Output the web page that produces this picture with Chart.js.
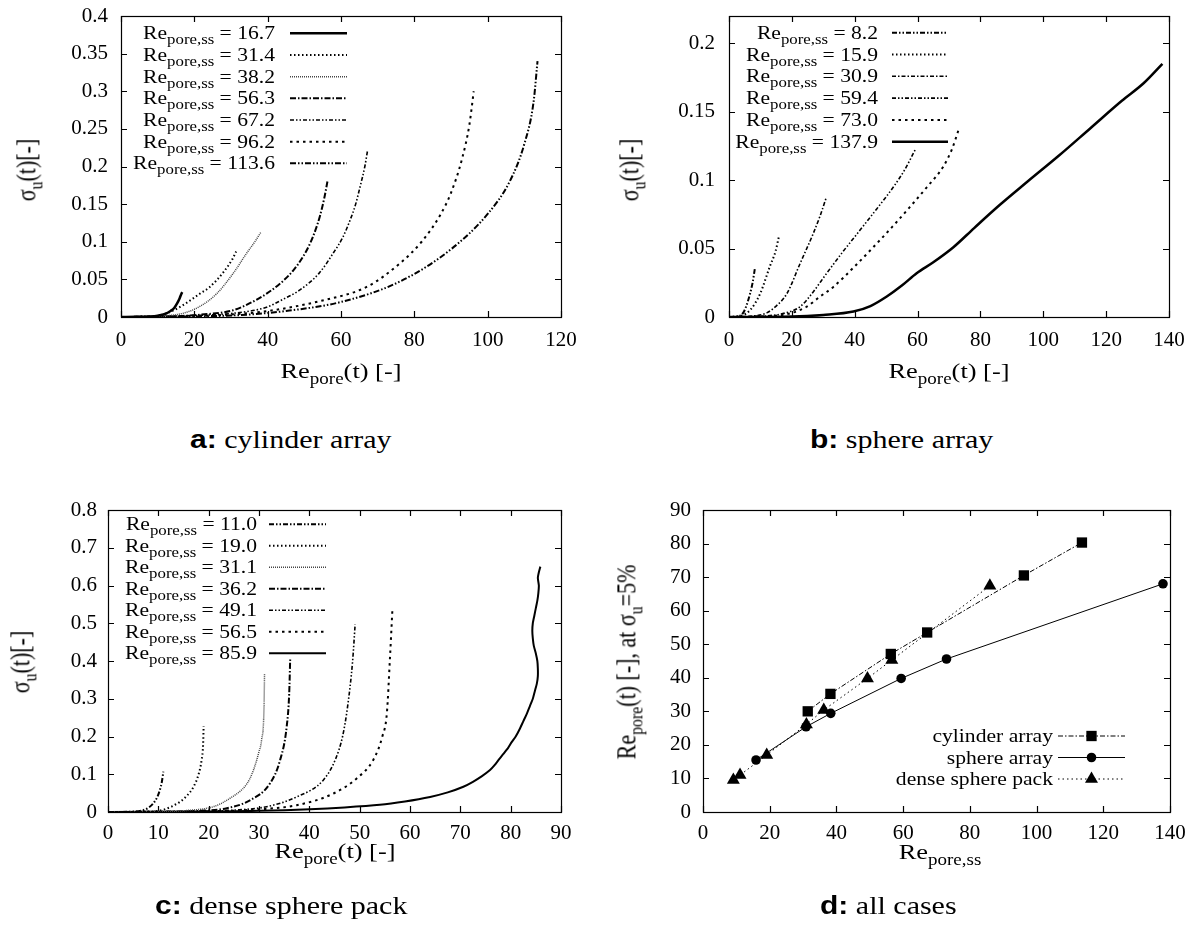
<!DOCTYPE html>
<html>
<head>
<meta charset="utf-8">
<script src="https://cdn.jsdelivr.net/npm/chart.js@4.4.1/dist/chart.umd.min.js"></script>
<style>
  body { margin: 0; background: #fff; }
  #page { position: relative; width: 1197px; height: 946px; overflow: hidden; font-family: "Liberation Serif", serif; color: #000; }
  canvas { position: absolute; }
  .t { position: absolute; white-space: nowrap; font-family: "Liberation Serif", serif; font-size: 22px; line-height: 1; }
  .h { transform: translate(-50%, -50%) scaleX(1.2); }
  .v { transform: translate(-50%, -50%) rotate(-90deg) scaleY(1.2); }
  .s { font-size: 0.72em; position: relative; top: 0.38em; }
  .cap { position: absolute; white-space: nowrap; font-family: "Liberation Serif", serif; font-size: 25px; line-height: 1; transform: translateY(-50%) scaleX(1.2); transform-origin: 0 50%; }
  .cap b { font-family: "Liberation Sans", sans-serif; font-weight: bold; }
</style>
</head>
<body>
<div id="page">
  <canvas id="ca" width="600" height="400" style="left:0;top:0"></canvas>
  <canvas id="cb" width="597" height="400" style="left:600px;top:0"></canvas>
  <canvas id="cc" width="600" height="420" style="left:0;top:460px"></canvas>
  <canvas id="cd" width="597" height="420" style="left:600px;top:460px"></canvas>

  <div class="t v" style="left:27px;top:170px">σ<span class="s">u</span>(t)[-]</div>
  <div class="t h" style="left:341px;top:371px">Re<span class="s">pore</span>(t) [-]</div>
  <div class="t v" style="left:630px;top:170px">σ<span class="s">u</span>(t)[-]</div>
  <div class="t h" style="left:949px;top:371px">Re<span class="s">pore</span>(t) [-]</div>
  <div class="t v" style="left:21px;top:662px">σ<span class="s">u</span>(t)[-]</div>
  <div class="t h" style="left:335px;top:851px">Re<span class="s">pore</span>(t) [-]</div>
  <div class="t v" style="left:627px;top:662px">Re<span class="s">pore</span>(t) [-], at σ<span class="s">u</span>=5%</div>
  <div class="t h" style="left:940px;top:852px">Re<span class="s">pore,ss</span></div>

  <div class="cap" style="left:190px;top:439px"><b>a:</b> cylinder array</div>
  <div class="cap" style="left:810px;top:439px"><b>b:</b> sphere array</div>
  <div class="cap" style="left:155px;top:905px"><b>c:</b> dense sphere pack</div>
  <div class="cap" style="left:820px;top:905px"><b>d:</b> all cases</div>
</div>

<script>
// ---- a: cylinder array, sigma_u(t) against Re_pore(t), one [Re, sigma] list per run
const cylRe = ['16.7', '31.4', '38.2', '56.3', '67.2', '96.2', '113.6'];
const cyl16_7 = [[0, 0], [4, 0.0002], [8, 0.0008], [10, 0.0018], [12, 0.004], [13.5, 0.008], [14.5, 0.012], [15.3, 0.018], [16, 0.025], [16.4, 0.03], [16.7, 0.033]];
const cyl31_4 = [[0, 0], [8, 0.0005], [12.5, 0.005], [17, 0.016], [21.5, 0.031], [24, 0.039], [26.1, 0.049], [28, 0.06], [29.5, 0.07], [30.5, 0.078], [31.4, 0.087]];
const cyl38_2 = [[0, 0], [10, 0.001], [17, 0.005], [21.5, 0.014], [26.1, 0.031], [30.6, 0.058], [34.3, 0.085], [36.5, 0.1], [38.2, 0.113]];
const cyl56_3 = [[0, 0], [15, 0.001], [21.5, 0.003], [30.6, 0.009], [35, 0.018], [39.7, 0.031], [44, 0.047], [47, 0.062], [49.5, 0.079], [51.5, 0.097], [53, 0.115], [54.3, 0.135], [55.4, 0.157], [56.3, 0.18]];
const cyl67_2 = [[0, 0], [20, 0.002], [30.6, 0.005], [39.7, 0.013], [44, 0.023], [48.8, 0.036], [54, 0.058], [57.9, 0.085], [60.5, 0.106], [62.5, 0.129], [64, 0.15], [65.2, 0.173], [66.5, 0.2], [67.2, 0.22]];
const cyl96_2 = [[0, 0], [25, 0.002], [40, 0.008], [55, 0.022], [67, 0.04], [76, 0.071], [82, 0.1], [87, 0.135], [90, 0.165], [93, 0.21], [95, 0.255], [96.2, 0.3]];
const cyl113_6 = [[0, 0], [30, 0.002], [45, 0.008], [60, 0.02], [76, 0.047], [90, 0.09], [100, 0.137], [106, 0.18], [110, 0.23], [112.5, 0.285], [113.6, 0.34]];

// ---- b: sphere array
const sphRe = ['8.2', '15.9', '30.9', '59.4', '73.0', '137.9'];
const sph8_2 = [[0, 0], [3, 0.0005], [4.5, 0.003], [5.5, 0.008], [6.7, 0.017], [7.5, 0.025], [8.2, 0.035]];
const sph15_9 = [[0, 0], [4, 0.001], [6.7, 0.005], [9.9, 0.017], [13, 0.037], [14.8, 0.048], [15.9, 0.059]];
const sph30_9 = [[0, 0], [8, 0.0008], [12, 0.003], [15, 0.008], [18.4, 0.017], [22.6, 0.039], [26.8, 0.061], [29, 0.074], [30.9, 0.087]];
const sph59_4 = [[0, 0], [12, 0.0008], [18, 0.003], [22.6, 0.0075], [26, 0.016], [31.1, 0.032], [36, 0.047], [41.7, 0.0635], [47, 0.079], [52.3, 0.095], [56, 0.108], [59.4, 0.123]];
const sph73_0 = [[0, 0], [15, 0.001], [20, 0.003], [24.7, 0.0075], [29, 0.015], [33.2, 0.022], [40, 0.037], [45.9, 0.051], [52, 0.066], [57.6, 0.0805], [63, 0.095], [68.2, 0.11], [71, 0.123], [73, 0.1365]];
const sph137_9 = [[0, 0], [20, 0.0003], [30, 0.0015], [39.6, 0.004], [45, 0.008], [50.2, 0.015], [55, 0.023], [59.7, 0.032], [65, 0.04], [71.4, 0.051], [78, 0.065], [86.2, 0.082], [95, 0.099], [105, 0.118], [115, 0.138], [125, 0.158], [132, 0.171], [137.9, 0.185]];

// ---- c: dense sphere pack
const dspRe = ['11.0', '19.0', '31.1', '36.2', '49.1', '56.5', '85.9'];
const dsp11_0 = [[0, 0], [5, 0.001], [7, 0.005], [8, 0.011], [9, 0.023], [9.8, 0.04], [10.3, 0.058], [10.7, 0.08], [11, 0.107]];
const dsp19_0 = [[0, 0], [8, 0.001], [11, 0.006], [14.3, 0.027], [15.6, 0.042], [17, 0.067], [18, 0.1], [18.6, 0.138], [18.9, 0.18], [19.0, 0.228]];
const dsp31_1 = [[0, 0], [10, 0.001], [15.6, 0.004], [20.9, 0.014], [24.2, 0.036], [27.6, 0.075], [28.9, 0.111], [30, 0.16], [30.5, 0.19], [31, 0.279], [31.1, 0.367]];
const dsp36_2 = [[0, 0], [12, 0.001], [18, 0.003], [23.6, 0.01], [28.2, 0.031], [32.2, 0.076], [34.2, 0.138], [35.5, 0.226], [36, 0.314], [36.2, 0.407]];
const dsp49_1 = [[0, 0], [15, 0.001], [25, 0.005], [31.5, 0.014], [37.5, 0.04], [42.8, 0.085], [45.2, 0.14], [46.6, 0.2], [47.6, 0.279], [48.6, 0.4], [49.1, 0.497]];
const dsp56_5 = [[0, 0], [20, 0.002], [30, 0.007], [37.5, 0.018], [44.8, 0.049], [49.4, 0.089], [52.7, 0.138], [54.5, 0.2], [55.4, 0.261], [56, 0.403], [56.5, 0.535]];
const dsp85_9 = [[0, 0], [20, 0.001], [30, 0.003], [40.1, 0.007], [47, 0.012], [54, 0.019], [59, 0.028], [64, 0.04], [67.5, 0.052], [70.6, 0.067], [72.5, 0.08], [74.3, 0.095], [75.9, 0.111], [76.8, 0.124], [77.6, 0.138], [78.5, 0.153], [79.5, 0.17], [80.2, 0.185], [81, 0.2], [81.8, 0.22], [82.5, 0.24], [83.2, 0.26], [83.8, 0.28], [84.4, 0.3], [84.8, 0.32], [85.2, 0.34], [85.4, 0.36], [85.4, 0.38], [85.3, 0.4], [85, 0.42], [84.6, 0.44], [84.4, 0.46], [84.3, 0.48], [84.4, 0.5], [84.7, 0.52], [85, 0.54], [85.3, 0.56], [85.5, 0.58], [85.6, 0.6], [85.4, 0.62], [85.6, 0.635], [85.9, 0.65]];

// ---- d: Re_pore(t) where sigma_u reaches 5%, against Re_pore,ss
const allNames = ['cylinder array', 'sphere array', 'dense sphere pack'];
const allCyl = [[31.4, 30.0], [38.2, 35.2], [56.3, 47.1], [67.2, 53.5], [96.2, 70.5], [113.6, 80.3]];
const allSph = [[15.9, 15.5], [30.9, 25.4], [38.3, 29.4], [59.4, 39.8], [73.0, 45.6], [137.9, 68.0]];
const allDsp = [[9.1, 9.5], [11.1, 11.0], [19.1, 17.0], [31.0, 26.1], [36.2, 30.4], [49.3, 39.8], [56.6, 45.3], [86.0, 67.4]];

// ---- axis ticks
const aXTicks = [0, 20, 40, 60, 80, 100, 120];
const aYTicks = [0, 0.05, 0.1, 0.15, 0.2, 0.25, 0.3, 0.35, 0.4];
const aYLabels = ['0', '0.05', '0.1', '0.15', '0.2', '0.25', '0.3', '0.35', '0.4'];
const bXTicks = [0, 20, 40, 60, 80, 100, 120, 140];
const bYTicks = [0, 0.05, 0.1, 0.15, 0.2];
const bYLabels = ['0', '0.05', '0.1', '0.15', '0.2'];
const cXTicks = [0, 10, 20, 30, 40, 50, 60, 70, 80, 90];
const cYTicks = [0, 0.1, 0.2, 0.3, 0.4, 0.5, 0.6, 0.7, 0.8];
const cYLabels = ['0', '0.1', '0.2', '0.3', '0.4', '0.5', '0.6', '0.7', '0.8'];
const dXTicks = [0, 20, 40, 60, 80, 100, 120, 140];
const dYTicks = [0, 10, 20, 30, 40, 50, 60, 70, 80, 90];

const SERIF = "'Liberation Serif', serif";

// gnuplot-like border with inward ticks on all four sides
const gnuFrame = {
  id: 'gnuFrame',
  beforeDatasetsDraw(chart) {
    const { ctx, chartArea: a, scales: { x, y } } = chart;
    ctx.save();
    ctx.strokeStyle = '#000';
    ctx.lineWidth = 1.2;
    ctx.beginPath();
    x.ticks.forEach(t => {
      const px = Math.round(x.getPixelForValue(t.value)) + 0.5;
      ctx.moveTo(px, a.bottom); ctx.lineTo(px, a.bottom - 6);
      ctx.moveTo(px, a.top); ctx.lineTo(px, a.top + 6);
    });
    y.ticks.forEach(t => {
      const py = Math.round(y.getPixelForValue(t.value)) + 0.5;
      ctx.moveTo(a.left, py); ctx.lineTo(a.left + 6, py);
      ctx.moveTo(a.right, py); ctx.lineTo(a.right - 6, py);
    });
    ctx.stroke();
    ctx.strokeRect(a.left + 0.5, a.top + 0.5, a.right - a.left, a.bottom - a.top);
    ctx.restore();
  }
};

function drawMarker(ctx, style, x, y, r) {
  ctx.beginPath();
  if (style === 'rect') {
    const s = r * Math.SQRT1_2;
    ctx.rect(x - s, y - s, 2 * s, 2 * s);
  } else if (style === 'triangle') {
    for (let k = 0; k < 3; k++) {
      const ang = k * 2 * Math.PI / 3;
      ctx[k ? 'lineTo' : 'moveTo'](x + Math.sin(ang) * r, y - Math.cos(ang) * r);
    }
    ctx.closePath();
  } else {
    ctx.arc(x, y, r, 0, 2 * Math.PI);
  }
  ctx.fillStyle = '#000';
  ctx.fill();
}

// key settings per canvas (kept out of chart options)
const keyCfg = {};

const gnuKey = {
  id: 'gnuKey',
  afterDatasetsDraw(chart) {
    const o = keyCfg[chart.canvas.id];
    if (!o) return;
    const ctx = chart.ctx;
    const fMain = o.size + 'px ' + SERIF;
    const fSub = o.sub + 'px ' + SERIF;
    ctx.save();
    ctx.fillStyle = '#000';
    ctx.textBaseline = 'alphabetic';
    chart.data.datasets.forEach((ds, i) => {
      const cy = o.y0 + i * o.dy;
      const parts = o.rows[i];
      let w = 0;
      parts.forEach(p => { ctx.font = p[1] ? fSub : fMain; w += ctx.measureText(p[0]).width; });
      ctx.save();
      ctx.translate(o.right - w * 1.2, cy + o.base);
      ctx.scale(1.2, 1);
      let px = 0;
      parts.forEach(p => {
        ctx.font = p[1] ? fSub : fMain;
        ctx.fillText(p[0], px, p[1] ? o.drop : 0);
        px += ctx.measureText(p[0]).width;
      });
      ctx.restore();
      ctx.save();
      ctx.strokeStyle = ds.borderColor;
      ctx.lineWidth = ds.borderWidth;
      ctx.setLineDash(ds.borderDash || []);
      ctx.beginPath();
      ctx.moveTo(o.x1, cy); ctx.lineTo(o.x2, cy);
      ctx.stroke();
      ctx.restore();
      if (ds.pointStyle && ds.pointRadius > 0) drawMarker(ctx, ds.pointStyle, (o.x1 + o.x2) / 2, cy, ds.pointRadius);
    });
    ctx.restore();
  }
};

function curve(pts, st) {
  return {
    data: pts.map(p => ({ x: p[0], y: p[1] })),
    showLine: true,
    borderColor: st.c || '#000',
    borderWidth: st.w,
    borderDash: st.d,
    pointRadius: 0,
    tension: st.t || 0,
    cubicInterpolationMode: st.t ? 'default' : 'monotone',
    fill: false
  };
}

function panel(id, box, xs, ys, datasets) {
  const cv = document.getElementById(id);
  const tickFont = { family: SERIF, size: 21 };
  return new Chart(cv, {
    type: 'scatter',
    data: { datasets },
    options: {
      responsive: false,
      animation: false,
      devicePixelRatio: 1,
      layout: { padding: { left: 0, top: box.top, right: cv.width - box.right, bottom: 0 } },
      plugins: { legend: { display: false }, tooltip: { enabled: false } },
      scales: {
        x: {
          type: 'linear', min: xs.min, max: xs.max,
          afterBuildTicks: s => { s.ticks = xs.ticks.map(v => ({ value: v })); },
          afterFit: s => { s.height = cv.height - box.bottom; s.paddingLeft = 0; s.paddingRight = 0; },
          grid: { display: false, drawTicks: false },
          border: { display: false },
          ticks: { color: '#000', font: tickFont, padding: xs.pad, maxRotation: 0, autoSkip: false,
                   callback: (v, i) => xs.labels[i] }
        },
        y: {
          type: 'linear', min: ys.min, max: ys.max,
          afterBuildTicks: s => { s.ticks = ys.ticks.map(v => ({ value: v })); },
          afterFit: s => { s.width = box.left; s.paddingTop = 0; s.paddingBottom = 0; },
          grid: { display: false, drawTicks: false },
          border: { display: false },
          ticks: { color: '#000', font: tickFont, padding: ys.pad, autoSkip: false,
                   callback: (v, i) => ys.labels[i] }
        }
      }
    },
    plugins: [gnuFrame, gnuKey]
  });
}

function reRows(list) {
  return list.map(v => [['Re', 0], ['pore,ss', 1], [' = ' + v, 0]]);
}

// ---- a
const cylStyles = [
  { w: 2.5, d: [] }, { w: 2, d: [1.5, 2.5] }, { w: 1.5, d: [1, 1], c: '#444' },
  { w: 2, d: [6, 2, 1.5, 2] }, { w: 1.6, d: [4, 2, 1.5, 2, 1.5, 2] },
  { w: 2, d: [2.5, 4] }, { w: 2, d: [6, 2, 1.5, 2, 1.5, 2] }
];
keyCfg.ca = { rows: reRows(cylRe), right: 275, x1: 290, x2: 347, y0: 33.3, dy: 21.67, base: 6, size: 18, sub: 14, drop: 5 };
panel('ca', { left: 121, right: 561, top: 16, bottom: 317 },
  { min: 0, max: 120, ticks: aXTicks, labels: aXTicks.map(String), pad: 11 },
  { min: 0, max: 0.4, ticks: aYTicks, labels: aYLabels, pad: 13 },
  [cyl16_7, cyl31_4, cyl38_2, cyl56_3, cyl67_2, cyl96_2, cyl113_6].map((p, i) => curve(p, cylStyles[i])));

// ---- b
const sphStyles = [
  { w: 2, d: [5, 2, 1.5, 2, 1.5, 2] }, { w: 2, d: [1.5, 2.5] }, { w: 1.6, d: [4, 2, 1.5, 2] },
  { w: 1.6, d: [4, 2, 1.5, 2, 1.5, 2] }, { w: 2, d: [2.5, 4] }, { w: 2.5, d: [] }
];
keyCfg.cb = { rows: reRows(sphRe), right: 278, x1: 292, x2: 348, y0: 32.7, dy: 21.8, base: 6, size: 18, sub: 14, drop: 5 };
panel('cb', { left: 129, right: 569, top: 16, bottom: 317 },
  { min: 0, max: 140, ticks: bXTicks, labels: bXTicks.map(String), pad: 11 },
  { min: 0, max: 0.22, ticks: bYTicks, labels: bYLabels, pad: 14 },
  [sph8_2, sph15_9, sph30_9, sph59_4, sph73_0, sph137_9].map((p, i) => curve(p, sphStyles[i])));

// ---- c
const dspStyles = [
  { w: 2, d: [5, 2, 1.5, 2, 1.5, 2] }, { w: 2, d: [1.5, 2.5] }, { w: 1.5, d: [1, 1], c: '#444' },
  { w: 2, d: [6, 2, 1.5, 2] }, { w: 1.6, d: [4, 2, 1.5, 2, 1.5, 2] }, { w: 2, d: [2.5, 4] },
  { w: 2, d: [], t: 0.2 }
];
keyCfg.cc = { rows: reRows(dspRe), right: 257, x1: 269, x2: 326, y0: 64.3, dy: 21.5, base: 6, size: 18, sub: 14, drop: 5 };
panel('cc', { left: 108, right: 561, top: 50, bottom: 352 },
  { min: 0, max: 90, ticks: cXTicks, labels: cXTicks.map(String), pad: 9 },
  { min: 0, max: 0.8, ticks: cYTicks, labels: cYLabels, pad: 11 },
  [dsp11_0, dsp19_0, dsp31_1, dsp36_2, dsp49_1, dsp56_5, dsp85_9].map((p, i) => curve(p, dspStyles[i])));

// ---- d
const allSets = [
  Object.assign(curve(allCyl, { w: 1, d: [5, 2, 1.5, 2] }), { pointStyle: 'rect', pointRadius: 7.3 }),
  Object.assign(curve(allSph, { w: 1, d: [] }), { pointStyle: 'circle', pointRadius: 4.8 }),
  Object.assign(curve(allDsp, { w: 1, d: [1.5, 3] }), { pointStyle: 'triangle', pointRadius: 7.5 })
].map(ds => Object.assign(ds, { cubicInterpolationMode: 'default', tension: 0, pointBackgroundColor: '#000', pointBorderColor: '#000', pointBorderWidth: 0 }));
keyCfg.cd = { rows: allNames.map(n => [[n, 0]]), right: 453, x1: 458, x2: 525, y0: 276, dy: 21.5, base: 6, size: 18, sub: 14, drop: 5 };
panel('cd', { left: 103, right: 570, top: 50, bottom: 352 },
  { min: 0, max: 140, ticks: dXTicks, labels: dXTicks.map(String), pad: 9 },
  { min: 0, max: 90, ticks: dYTicks, labels: dYTicks.map(String), pad: 12 },
  allSets);
</script>
</body>
</html>
